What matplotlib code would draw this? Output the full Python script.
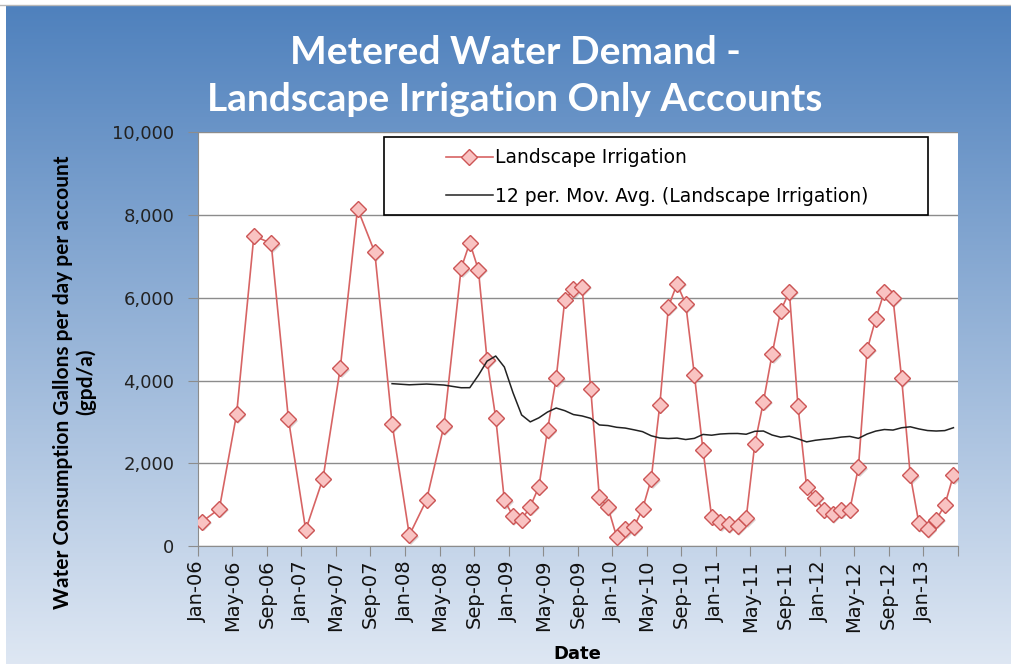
import numpy as np
import pandas as pd
import matplotlib
matplotlib.use("Agg")
import matplotlib.pyplot as plt
from matplotlib.lines import Line2D
from matplotlib.patches import Rectangle
from matplotlib.transforms import offset_copy

# Landscape irrigation accounts: bimonthly reads until mid-2008, monthly after
dates = ["2006-01", "2006-03", "2006-05", "2006-07", "2006-09", "2006-11",
         "2007-01", "2007-03", "2007-05", "2007-07", "2007-09", "2007-11",
         "2008-01", "2008-03", "2008-05",
         "2008-07", "2008-08", "2008-09", "2008-10", "2008-11", "2008-12",
         "2009-01", "2009-02", "2009-03", "2009-04", "2009-05", "2009-06",
         "2009-07", "2009-08", "2009-09", "2009-10", "2009-11", "2009-12",
         "2010-01", "2010-02", "2010-03", "2010-04", "2010-05", "2010-06",
         "2010-07", "2010-08", "2010-09", "2010-10", "2010-11", "2010-12",
         "2011-01", "2011-02", "2011-03", "2011-04", "2011-05", "2011-06",
         "2011-07", "2011-08", "2011-09", "2011-10", "2011-11", "2011-12",
         "2012-01", "2012-02", "2012-03", "2012-04", "2012-05", "2012-06",
         "2012-07", "2012-08", "2012-09", "2012-10", "2012-11", "2012-12",
         "2013-01", "2013-02", "2013-03", "2013-04"]

gpd = [590, 900, 3190, 7500, 7320, 3070,
       390, 1630, 4300, 8160, 7100, 2960,
       260, 1120, 2900,
       6715, 7336, 6675, 4500, 3100, 1110,
       725, 630, 950, 1435, 2805, 4055,
       5950, 6210, 6270, 3805, 1180, 935,
       226, 403, 452, 895, 1613, 3410,
       5790, 6336, 5852, 4143, 2322, 709,
       573, 532, 480, 670, 2467, 3490,
       4635, 5691, 6151, 3386, 1435, 1169,
       871, 766, 871, 871, 1902, 4740,
       5490, 6151, 5990, 4055, 1717, 548,
       403, 629, 992, 1710]

# 12-point moving average, same as the spreadsheet trendline
s = pd.Series(gpd, dtype=float)
mov_avg = s.rolling(12).mean()

# months since Jan-2006, centred in each month slot
d = pd.to_datetime(dates, format="%Y-%m")
xm = (d.year - 2006) * 12 + (d.month - 1) + 0.5

fig = plt.figure(figsize=(10.12, 6.64), dpi=100)
fig.patch.set_facecolor("white")

# blue gradient backdrop
bg = fig.add_axes([6 / 1012, 0, 1 - 6 / 1012, 1 - 6 / 664])
top = np.array([0x4F, 0x81, 0xBD]) / 255
bot = np.array([0xDE, 0xE7, 0xF3]) / 255
t = np.linspace(0, 1, 256)[:, None]
grad = top[None, :] * (1 - t) + bot[None, :] * t
bg.imshow(grad[:, None, :], aspect="auto", extent=[0, 1, 0, 1])
bg.set_axis_off()
fig.add_artist(Line2D([0, 1], [1 - 5 / 664] * 2, color="#b8b8b8", lw=1))

ax = fig.add_axes([0.1954, 0.1777, 0.7510, 0.6228])
ax.set_facecolor("white")

# soft drop shadow under the diamonds
shadow = offset_copy(ax.transData, fig=fig, x=1.5, y=-1.5, units="dots")
ax.plot(xm, gpd, ls="none", marker="D", markersize=8.6, color="#9a8080",
        alpha=0.35, markeredgewidth=0, transform=shadow, zorder=2.5)
ax.plot(xm, gpd, color="#d76464", lw=1.2, marker="D", markersize=8.6,
        markerfacecolor="#f9c3c2", markeredgecolor="#cc5555", markeredgewidth=1.0,
        label="Landscape Irrigation", zorder=3)
ax.plot(xm, mov_avg, color="#222222", lw=1.1,
        label="12 per. Mov. Avg. (Landscape Irrigation)", zorder=4)

ax.set_xlim(0, 88)
ax.set_ylim(0, 10000)
ax.set_yticks(np.arange(0, 10001, 2000))
ax.set_yticklabels([f"{v:,}" for v in range(0, 10001, 2000)])
ax.grid(axis="y", color="#8c8c8c", lw=1)
ax.set_axisbelow(True)

tick_pos = np.arange(0, 89, 4)
month_names = {0: "Jan", 4: "May", 8: "Sep"}
tick_lbl = [f"{month_names[p % 12]}-{(6 + p // 12):02d}" if p < 88 else "" for p in tick_pos]
ax.set_xticks(tick_pos)
ax.set_xticklabels(tick_lbl, rotation=90, fontsize=14, color="#111111")

for side in ["top", "right"]:
    ax.spines[side].set_visible(False)
for side in ["left", "bottom"]:
    ax.spines[side].set_color("#8c8c8c")
ax.tick_params(axis="both", length=7, color="#8c8c8c")
ax.tick_params(axis="y", labelsize=13, labelcolor="#222222", pad=10)
ax.tick_params(axis="x", pad=3)

ax.set_xlabel("Date", fontsize=13, fontweight="bold", labelpad=10)
ax.set_ylabel("Water Consumption Gallons per day per account\n(gpd/a)",
              fontsize=15, fontweight="bold", family="Lato", linespacing=1.2)
ax.yaxis.set_label_coords(-0.133, 0.397)

# legend box
ax.add_patch(Rectangle((0.2451, 0.8005), 0.7159, 0.1885, transform=ax.transAxes,
                       facecolor="white", edgecolor="black", lw=1.2, zorder=4.5,
                       clip_on=False))
leg = ax.legend(loc="upper left", bbox_to_anchor=(0.3266, 0.962), fontsize=13.5,
                frameon=False, handlelength=2.5, borderpad=0, labelspacing=1.05,
                handletextpad=0.1, borderaxespad=0)
leg.set_zorder(5)

fig.text(0.509, 0.886, "Metered Water Demand -\nLandscape Irrigation Only Accounts",
         ha="center", va="center", color="white", fontsize=28, fontweight="bold",
         family="Lato", linespacing=1.42)

fig.savefig("out.png", dpi=100)
